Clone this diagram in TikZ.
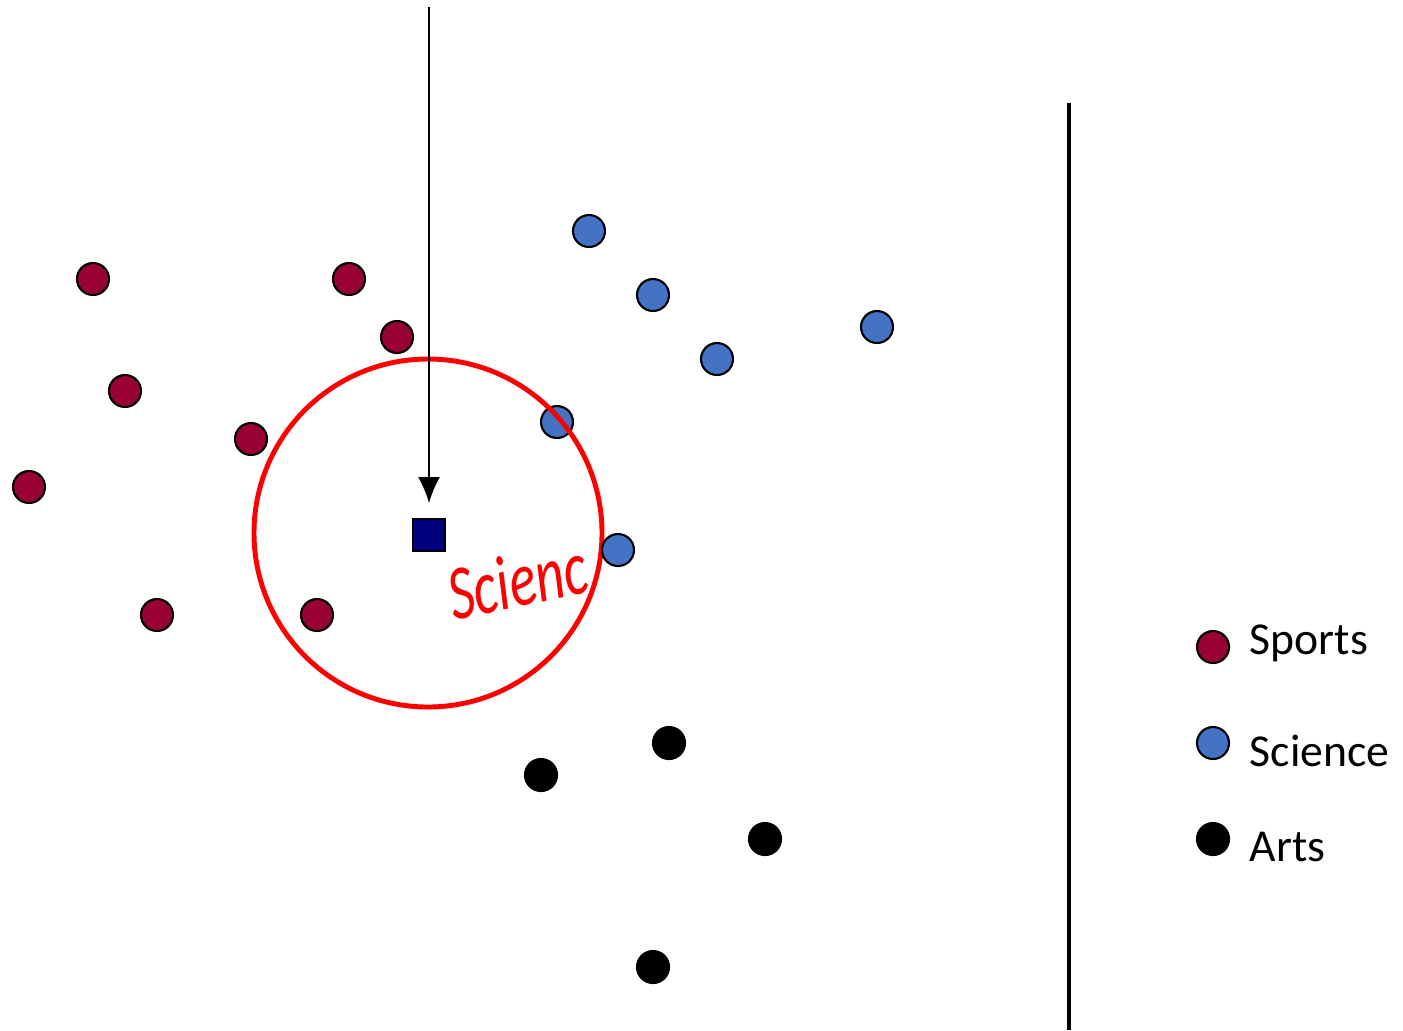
\documentclass[tikz,border=0pt]{standalone}
\usepackage{fontspec}
\setmainfont{Carlito}
\usepackage{tikz}
\usetikzlibrary{arrows.meta,positioning}

\definecolor{sportsred}{HTML}{990033}
\definecolor{sciblue}{HTML}{4472C4}
\definecolor{querynavy}{HTML}{000080}

\begin{document}
\begin{tikzpicture}[
        dot/.style={draw, circle, line width=0.6pt, inner sep=0pt, minimum size=3.2mm},
        sports/.style={dot, fill=sportsred},
        science/.style={dot, fill=sciblue},
        arts/.style={dot, fill=black},
        legendtext/.style={anchor=west, inner sep=0pt, font=\fontsize{13}{13}\selectfont}
    ]
        \useasboundingbox (0, 0) rectangle (14.03, -10.30);

        % query point and its label
        \node (Q) [draw, line width=0.6pt, fill=querynavy, minimum size=3.2mm, inner sep=0pt] at (4.29, -5.35) {};
        \node (lbl) [red, rotate=12, xscale=0.72, transform shape, font=\fontsize{22}{22}\selectfont\itshape] at (5.17, -5.80) {Scienc};

        \node (S1) [sports] at (0.93, -2.79) {};
        \node (S2) [sports] at (3.49, -2.79) {};
        \node (S3) [sports] at (3.97, -3.37) {};
        \node (S4) [sports] at (1.25, -3.91) {};
        \node (S5) [sports] at (2.51, -4.39) {};
        \node (S6) [sports] at (0.29, -4.87) {};
        \node (S7) [sports] at (1.57, -6.15) {};
        \node (S8) [sports] at (3.17, -6.15) {};

        \node (B1) [science] at (5.89, -2.31) {};
        \node (B2) [science] at (6.53, -2.95) {};
        \node (B3) [science] at (8.77, -3.27) {};
        \node (B4) [science] at (7.17, -3.59) {};
        \node (B5) [science] at (5.57, -4.22) {};
        % neighbourhood
        \node (R) [draw=red, circle, line width=1.4pt, minimum size=34.8mm, inner sep=0pt] at (4.28, -5.33) {};
        \node (B6) [science] at (6.18, -5.50) {};

        \node (A1) [arts] at (6.69, -7.43) {};
        \node (A2) [arts] at (5.41, -7.75) {};
        \node (A3) [arts] at (7.65, -8.39) {};
        \node (A4) [arts] at (6.53, -9.67) {};

        % incoming query
        \coordinate (top) at (4.29, -0.07);
        \coordinate (tip) at (4.29, -5.03);
        \draw[-{Latex[length=2.6mm, width=2.2mm]}, line width=0.45pt] (top) -- (tip);

        % separator
        \coordinate (sepTop) at (10.69, -1.03);
        \coordinate (sepBot) at (10.69, -10.30);
        \draw[line width=1.4pt] (sepTop) -- (sepBot);

        % legend
        \node (LS) [sports] at (12.13, -6.47) {};
        \node (LB) [science] at (12.13, -7.43) {};
        \node (LA) [arts] at (12.13, -8.39) {};
        \node (tS) [legendtext] at (12.49, -6.43) {Sports};
        \node (tB) [legendtext] at (12.49, -7.51) {Science};
        \node (tA) [legendtext] at (12.49, -8.47) {Arts};
    \end{tikzpicture}
\end{document}
